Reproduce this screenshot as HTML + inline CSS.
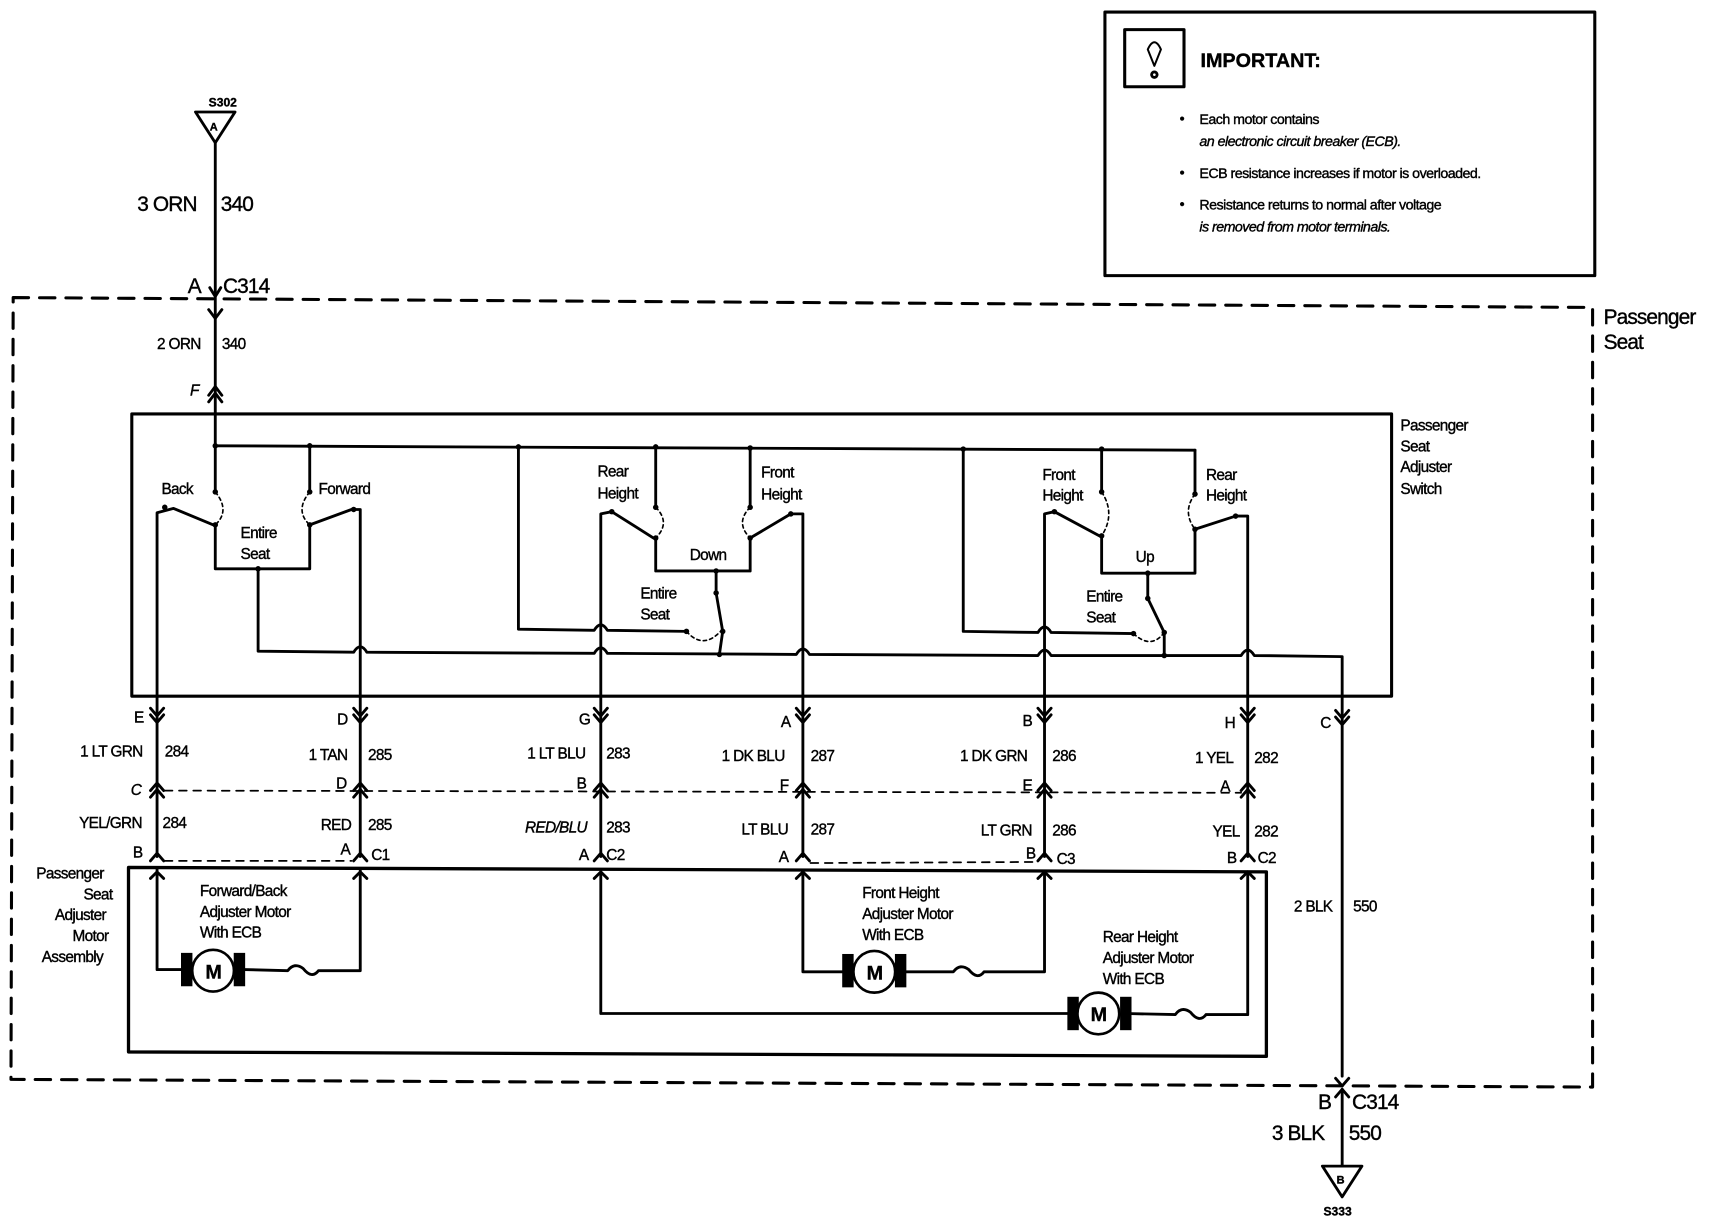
<!DOCTYPE html>
<html><head><meta charset="utf-8"><style>
html,body{margin:0;padding:0;background:#fff;}
svg{display:block;}
text{font-family:"Liberation Sans",sans-serif;fill:#000;stroke:#000;stroke-width:0.35;}
</style></head><body>
<svg width="1720" height="1232" viewBox="0 0 1566 1122" preserveAspectRatio="none" xmlns="http://www.w3.org/2000/svg">
<g fill="none" stroke="#000" stroke-width="2.6" stroke-linecap="round" stroke-linejoin="round">
<!-- important box -->
<rect x="1006" y="11" width="446" height="240" stroke-width="2.8"/>
<rect x="1024" y="27" width="54" height="52" stroke-width="2.8"/>
<path d="M1045 45 Q1051 32 1057 45 L1051 60 Z" stroke-width="1.8"/>
<circle cx="1051" cy="68" r="2.5"/>
<!-- dashed outer -->
<path d="M12 271 L1450 280 L1450 990 L10 983 Z" stroke-dasharray="14,10" stroke-width="2.8"/>
<!-- S302 -->
<path d="M178 102 L214 102 L196 130 Z"/>
<line x1="196" y1="130" x2="196" y2="406"/>
<path d="M191 262 L196 270 L201 262"/>
<path d="M190 282 L196 290 L202 282"/>
<path d="M190 360 L196 352 L202 360 M190 366 L196 358 L202 366"/>
<!-- switch box -->
<rect x="120" y="377" width="1147" height="257" stroke-width="2.8"/>
<!-- top bus -->
<path d="M196 406 L1088 410"/>
<!-- group 1 -->
<path d="M196 406 L196 448 M282 406 L282 448"/>
<path d="M143 655 L143 467 L158 463 L194 478"/>
<path d="M196 478 L196 518 L282 518 L282 478"/>
<path d="M282 478 L320 464 L328 464 L328 655"/>
<path d="M235 518 L235 593 L322 594 Q328 584 334 594 L541 595 Q547 585 553 595 L725 596 Q731 586 737 596 L945 597 Q951 587 957 597 L1130 597 Q1136 587 1142 597 L1222 598 L1222 980"/>
<path d="M196 448 Q210 465 196 478 M282 448 Q268 465 282 478" stroke-dasharray="3,3" stroke-width="1.5"/>
<!-- group 2 -->
<path d="M472 406 L472 573 L541 574 Q547 564 553 574 L625 575"/>
<path d="M597 406 L597 462 M683 408 L683 462"/>
<path d="M547 655 L547 468 L557 466 L595 490"/>
<path d="M597 490 L597 520 L683 520 L683 490"/>
<path d="M683 490 L720 468 L731 468 L731 655"/>
<path d="M652 520 L652 540 L658 575 L655 596"/>
<path d="M597 462 Q611 476 597 490 M683 462 Q669 476 683 490 M625 575 Q640 592 656 575" stroke-dasharray="3,3" stroke-width="1.5"/>
<!-- group 3 -->
<path d="M877 409 L877 575 L945 576 Q951 566 957 576 L1032 577"/>
<path d="M1003 409 L1003 448 M1088 410 L1088 450"/>
<path d="M951 655 L951 468 L960 466 L1001 488"/>
<path d="M1003 488 L1003 522 L1088 522 L1088 482"/>
<path d="M1088 482 L1125 470 L1136 470 L1136 655"/>
<path d="M1045 522 L1045 545 L1060 576 L1060 597"/>
<path d="M1003 448 Q1016 468 1003 488 M1088 450 Q1076 466 1088 482 M1032 577 Q1048 592 1060 576" stroke-dasharray="3,3" stroke-width="1.5"/>
<!-- lower wires -->
<path d="M143 655 L143 780 M328 655 L328 780 M547 655 L547 780 M731 655 L731 780 M951 655 L951 780 M1136 655 L1136 780"/>
<g>
<path d="M137 645 L143 652 L149 645 M137 651 L143 658 L149 651"/>
<path d="M322 645 L328 652 L334 645 M322 651 L328 658 L334 651"/>
<path d="M541 645 L547 652 L553 645 M541 651 L547 658 L553 651"/>
<path d="M725 645 L731 652 L737 645 M725 651 L731 658 L737 651"/>
<path d="M945 645 L951 652 L957 645 M945 651 L951 658 L957 651"/>
<path d="M1130 645 L1136 652 L1142 645 M1130 651 L1136 658 L1142 651"/>
<path d="M1216 647 L1222 654 L1228 647 M1216 653 L1222 660 L1228 653"/>
</g>
<g>
<path d="M137 720 L143 713 L149 720 M137 726 L143 719 L149 726"/>
<path d="M322 720 L328 713 L334 720 M322 726 L328 719 L334 726"/>
<path d="M541 720 L547 713 L553 720 M541 726 L547 719 L553 726"/>
<path d="M725 720 L731 713 L737 720 M725 726 L731 719 L737 726"/>
<path d="M945 720 L951 713 L957 720 M945 726 L951 719 L957 726"/>
<path d="M1130 720 L1136 713 L1142 720 M1130 726 L1136 719 L1142 726"/>
</g>
<path d="M150 720 L1130 722" stroke-dasharray="7,6" stroke-width="1.6"/>
<path d="M137 784 L143 777 L149 784 M322 784 L328 777 L334 784 M541 784 L547 777 L553 784 M725 784 L731 777 L737 784 M945 784 L951 777 L957 784 M1130 784 L1136 777 L1142 784"/>
<path d="M150 784 L320 784 M738 786 L944 785" stroke-dasharray="7,6" stroke-width="1.6"/>
<!-- motor box -->
<path d="M117 790 L1153 794 L1153 962 L117 958 Z" stroke-width="3"/>
<path d="M143 792 L143 883 L168 883 M222 883 L262 884 Q268 876 276 882 Q284 892 290 884 L328 884 L328 792"/>
<path d="M137 800 L143 794 L149 800 M322 800 L328 794 L334 800 M541 800 L547 794 L553 800 M725 800 L731 794 L737 800 M945 800 L951 794 L957 800 M1130 800 L1136 794 L1142 800"/>
<path d="M547 794 L547 923 L975 923 M1025 923 L1070 924 Q1076 916 1084 922 Q1092 932 1098 924 L1136 924 L1136 794"/>
<path d="M731 794 L731 885 L770 885 M822 885 L868 885 Q874 877 882 883 Q890 893 896 885 L951 885 L951 794"/>
<path d="M1216 982 L1222 989 L1228 982 M1216 999 L1222 992 L1228 999"/>
<line x1="1222" y1="992" x2="1222" y2="1062"/>
<path d="M1204 1062 L1240 1062 L1222 1090 Z"/>
</g>
<g stroke="#000" stroke-width="2.4">
<rect x="166" y="869" width="8" height="28" fill="#000"/><rect x="214" y="869" width="8" height="28" fill="#000"/>
<circle cx="194" cy="884" r="19" fill="#fff"/>
<rect x="768" y="870" width="8" height="28" fill="#000"/><rect x="816" y="870" width="8" height="28" fill="#000"/>
<circle cx="796" cy="885" r="19" fill="#fff"/>
<rect x="973" y="909" width="8" height="28" fill="#000"/><rect x="1021" y="909" width="8" height="28" fill="#000"/>
<circle cx="1000" cy="923" r="19" fill="#fff"/>
</g>
<g fill="#000">
<circle cx="196" cy="406" r="2.5"/><circle cx="282" cy="406" r="2.5"/><circle cx="472" cy="407" r="2.5"/><circle cx="597" cy="407" r="2.5"/><circle cx="683" cy="408" r="2.5"/><circle cx="877" cy="409" r="2.5"/><circle cx="1003" cy="409" r="2.5"/>
<circle cx="196" cy="448" r="2.5"/><circle cx="196" cy="478" r="2.5"/><circle cx="282" cy="448" r="2.5"/><circle cx="282" cy="478" r="2.5"/><circle cx="150" cy="462" r="2.5"/><circle cx="322" cy="464" r="2.5"/><circle cx="235" cy="518" r="2.5"/>
<circle cx="597" cy="462" r="2.5"/><circle cx="597" cy="490" r="2.5"/><circle cx="683" cy="462" r="2.5"/><circle cx="683" cy="490" r="2.5"/><circle cx="557" cy="466" r="2.5"/><circle cx="720" cy="468" r="2.5"/><circle cx="652" cy="520" r="2.5"/><circle cx="652" cy="540" r="2.5"/><circle cx="658" cy="575" r="2.5"/><circle cx="625" cy="575" r="2.5"/><circle cx="655" cy="596" r="2.5"/>
<circle cx="1003" cy="448" r="2.5"/><circle cx="1003" cy="488" r="2.5"/><circle cx="1088" cy="450" r="2.5"/><circle cx="1088" cy="482" r="2.5"/><circle cx="960" cy="466" r="2.5"/><circle cx="1125" cy="470" r="2.5"/><circle cx="1045" cy="522" r="2.5"/><circle cx="1045" cy="545" r="2.5"/><circle cx="1060" cy="576" r="2.5"/><circle cx="1032" cy="577" r="2.5"/><circle cx="1060" cy="597" r="2.5"/>
</g>
<g font-size="18" font-weight="bold"><text x="1093" y="61">IMPORTANT:</text></g>
<g font-size="13" letter-spacing="-0.5">
<text x="1074" y="112">•</text><text x="1092" y="113">Each motor contains</text>
<text x="1092" y="133" font-style="italic">an electronic circuit breaker (ECB).</text>
<text x="1074" y="161">•</text><text x="1092" y="162">ECB resistance increases if motor is overloaded.</text>
<text x="1074" y="190">•</text><text x="1092" y="191">Resistance returns to normal after voltage</text>
<text x="1092" y="211" font-style="italic">is removed from motor terminals.</text>
</g>
<g font-size="19" letter-spacing="-0.8">
<text x="125" y="192">3 ORN</text><text x="201" y="192">340</text>
<text x="171" y="267">A</text><text x="203" y="267">C314</text>
<text x="1460" y="295">Passenger</text><text x="1460" y="318">Seat</text>
<text x="1200" y="1010">B</text><text x="1231" y="1010">C314</text>
<text x="1158" y="1038">3 BLK</text><text x="1228" y="1038">550</text>
</g>
<g font-size="12" font-weight="bold">
<text x="190" y="97" font-size="11">S302</text><text x="191" y="119" font-size="10">A</text>
<text x="1205" y="1107" font-size="11">S333</text><text x="1217" y="1078" font-size="10">B</text>
</g>
<g font-size="14" letter-spacing="-0.6">
<text x="143" y="318">2 ORN</text><text x="202" y="318">340</text>
<text x="173" y="360" font-style="italic">F</text>
<text x="1275" y="392">Passenger</text><text x="1275" y="411">Seat</text><text x="1275" y="430">Adjuster</text><text x="1275" y="450">Switch</text>
<text x="147" y="450">Back</text><text x="290" y="450">Forward</text>
<text x="219" y="490">Entire</text><text x="219" y="509">Seat</text>
<text x="544" y="434">Rear</text><text x="544" y="454">Height</text>
<text x="693" y="435">Front</text><text x="693" y="455">Height</text>
<text x="628" y="510">Down</text>
<text x="583" y="545">Entire</text><text x="583" y="564">Seat</text>
<text x="949" y="437">Front</text><text x="949" y="456">Height</text>
<text x="1098" y="437">Rear</text><text x="1098" y="456">Height</text>
<text x="1034" y="512">Up</text>
<text x="989" y="548">Entire</text><text x="989" y="567">Seat</text>
<text x="122" y="658">E</text><text x="307" y="660">D</text><text x="527" y="660">G</text><text x="711" y="662">A</text><text x="931" y="661">B</text><text x="1115" y="663">H</text><text x="1202" y="663">C</text>
<text x="73" y="689">1 LT GRN</text><text x="150" y="689">284</text>
<text x="281" y="692">1 TAN</text><text x="335" y="692">285</text>
<text x="480" y="691">1 LT BLU</text><text x="552" y="691">283</text>
<text x="657" y="693">1 DK BLU</text><text x="738" y="693">287</text>
<text x="874" y="693">1 DK GRN</text><text x="958" y="693">286</text>
<text x="1088" y="695">1 YEL</text><text x="1142" y="695">282</text>
<text x="119" y="724" font-style="italic">C</text><text x="306" y="718">D</text><text x="525" y="718">B</text><text x="710" y="720">F</text><text x="931" y="720">E</text><text x="1111" y="721">A</text>
<text x="72" y="754">YEL/GRN</text><text x="148" y="754">284</text>
<text x="292" y="756">RED</text><text x="335" y="756">285</text>
<text x="478" y="758" font-style="italic">RED/BLU</text><text x="552" y="758">283</text>
<text x="675" y="760">LT BLU</text><text x="738" y="760">287</text>
<text x="893" y="761">LT GRN</text><text x="958" y="761">286</text>
<text x="1104" y="762">YEL</text><text x="1142" y="762">282</text>
<text x="121" y="781">B</text><text x="310" y="778">A</text><text x="338" y="783">C1</text>
<text x="527" y="783">A</text><text x="552" y="783">C2</text>
<text x="709" y="785">A</text><text x="934" y="782">B</text><text x="962" y="787">C3</text>
<text x="1117" y="786">B</text><text x="1145" y="786">C2</text>
<text x="1178" y="830">2 BLK</text><text x="1232" y="830">550</text>
<text x="33" y="800">Passenger</text><text x="76" y="819">Seat</text><text x="50" y="838">Adjuster</text><text x="66" y="857">Motor</text><text x="38" y="876">Assembly</text>
<text x="182" y="816">Forward/Back</text><text x="182" y="835">Adjuster Motor</text><text x="182" y="854">With ECB</text>
<text x="785" y="818">Front Height</text><text x="785" y="837">Adjuster Motor</text><text x="785" y="856">With ECB</text>
<text x="1004" y="858">Rear Height</text><text x="1004" y="877">Adjuster Motor</text><text x="1004" y="896">With ECB</text>
</g>
<g font-size="18" font-weight="bold">
<text x="187" y="891">M</text><text x="789" y="892">M</text><text x="993" y="930">M</text>
</g>
</svg>
</body></html>
